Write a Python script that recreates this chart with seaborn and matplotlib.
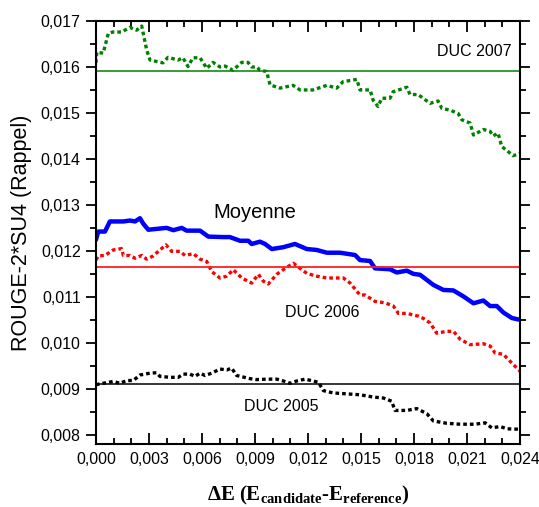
import pandas as pd
import matplotlib
matplotlib.use("Agg")
import matplotlib.pyplot as plt
import matplotlib.ticker as mticker
import seaborn as sns

# DUC 2007 (green dotted)
x_2007 = [0.0, 0.00005, 0.00041, 0.00070, 0.00096, 0.00145, 0.00192, 0.00230, 0.00259, 0.00287, 0.00306,
          0.00379, 0.00408, 0.00464, 0.00492, 0.00521, 0.00549, 0.00589, 0.00627, 0.00662, 0.00702,
          0.00730, 0.00775, 0.00825, 0.00860, 0.00881, 0.00910, 0.00928, 0.00966, 0.00985, 0.01041,
          0.01115, 0.01155, 0.01228, 0.01306, 0.01362, 0.01398, 0.01476, 0.01494, 0.01551, 0.01568,
          0.01596, 0.01617, 0.01664, 0.01681, 0.01759, 0.01777, 0.01823, 0.01890, 0.01936, 0.01957,
          0.02004, 0.02049, 0.02070, 0.02117, 0.02136, 0.02192, 0.02230, 0.02247, 0.02275, 0.02296,
          0.02332, 0.02360, 0.02400]
y_2007 = [0.01609, 0.01632, 0.01630, 0.01673, 0.01676, 0.01676, 0.01686, 0.01680, 0.01689, 0.01637, 0.01615,
          0.01609, 0.01621, 0.01615, 0.01620, 0.01601, 0.01620, 0.01620, 0.01597, 0.01610, 0.01600,
          0.01602, 0.01593, 0.01610, 0.01610, 0.01600, 0.01600, 0.01593, 0.01590, 0.01561, 0.01554,
          0.01560, 0.01550, 0.01550, 0.01560, 0.01554, 0.01568, 0.01573, 0.01550, 0.01550, 0.01528,
          0.01514, 0.01532, 0.01532, 0.01546, 0.01556, 0.01540, 0.01540, 0.01521, 0.01526, 0.01510,
          0.01506, 0.01499, 0.01485, 0.01478, 0.01452, 0.01464, 0.01460, 0.01450, 0.01456, 0.01427,
          0.01416, 0.01407, 0.01412]

# Moyenne (blue solid)
x_moy = [0.0, 0.00013, 0.00051, 0.00079, 0.00155, 0.00192, 0.00221, 0.00249, 0.00268, 0.00296,
         0.00400, 0.00438, 0.00485, 0.00513, 0.00589, 0.00636, 0.00721, 0.00758, 0.00815, 0.00862,
         0.00881, 0.00928, 0.00957, 0.00995, 0.01060, 0.01126, 0.01193, 0.01249, 0.01306, 0.01381,
         0.01466, 0.01494, 0.01551, 0.01579, 0.01664, 0.01702, 0.01759, 0.01796, 0.01834, 0.01909,
         0.01966, 0.02022, 0.02079, 0.02136, 0.02192, 0.02230, 0.02268, 0.02305, 0.02353, 0.02400]
y_moy = [0.01224, 0.01242, 0.01242, 0.01264, 0.01264, 0.01266, 0.01264, 0.01271, 0.01259, 0.01246,
         0.01250, 0.01245, 0.01250, 0.01244, 0.01244, 0.01231, 0.01230, 0.01230, 0.01222, 0.01222,
         0.01215, 0.01220, 0.01215, 0.01204, 0.01208, 0.01215, 0.01204, 0.01202, 0.01196, 0.01196,
         0.01191, 0.01180, 0.01178, 0.01162, 0.01160, 0.01153, 0.01157, 0.01150, 0.01148, 0.01126,
         0.01115, 0.01114, 0.01101, 0.01086, 0.01092, 0.01080, 0.01080, 0.01066, 0.01054, 0.01050]

# DUC 2006 (red dotted)
x_2006 = [0.0, 0.00013, 0.00051, 0.00098, 0.00145, 0.00155, 0.00192, 0.00221, 0.00259, 0.00287,
          0.00324, 0.00362, 0.00396, 0.00428, 0.00475, 0.00504, 0.00551, 0.00589, 0.00627, 0.00655,
          0.00702, 0.00740, 0.00777, 0.00825, 0.00881, 0.00919, 0.00947, 0.00975, 0.01023, 0.01070,
          0.01117, 0.01155, 0.01193, 0.01249, 0.01306, 0.01400, 0.01438, 0.01494, 0.01523, 0.01579,
          0.01636, 0.01683, 0.01711, 0.01759, 0.01824, 0.01853, 0.01891, 0.01928, 0.01985, 0.02023,
          0.02060, 0.02117, 0.02192, 0.02230, 0.02258, 0.02305, 0.02353, 0.02400]
y_2006 = [0.01180, 0.01189, 0.01190, 0.01202, 0.01205, 0.01190, 0.01190, 0.01184, 0.01190, 0.01182,
          0.01189, 0.01202, 0.01213, 0.01199, 0.01199, 0.01190, 0.01194, 0.01182, 0.01177, 0.01155,
          0.01141, 0.01145, 0.01159, 0.01141, 0.01130, 0.01149, 0.01134, 0.01128, 0.01149, 0.01162,
          0.01173, 0.01162, 0.01151, 0.01145, 0.01141, 0.01141, 0.01130, 0.01104, 0.01104, 0.01090,
          0.01087, 0.01080, 0.01064, 0.01064, 0.01058, 0.01053, 0.01043, 0.01021, 0.01025, 0.01025,
          0.01008, 0.00996, 0.00998, 0.00993, 0.00978, 0.00975, 0.00956, 0.00938]

# DUC 2005 (black dotted)
x_2005 = [0.0, 0.00041, 0.00098, 0.00136, 0.00174, 0.00211, 0.00249, 0.00306, 0.00343, 0.00362,
          0.00419, 0.00466, 0.00494, 0.00532, 0.00560, 0.00589, 0.00617, 0.00655, 0.00702, 0.00740,
          0.00768, 0.00796, 0.00872, 0.00909, 0.00966, 0.01023, 0.01060, 0.01098, 0.01136, 0.01183,
          0.01230, 0.01259, 0.01287, 0.01343, 0.01419, 0.01494, 0.01570, 0.01626, 0.01673, 0.01692,
          0.01759, 0.01815, 0.01872, 0.01909, 0.01985, 0.02060, 0.02145, 0.02202, 0.02240, 0.02287,
          0.02325, 0.02400]
y_2005 = [0.00909, 0.00912, 0.00916, 0.00912, 0.00918, 0.00918, 0.00930, 0.00934, 0.00935, 0.00927,
          0.00925, 0.00925, 0.00932, 0.00932, 0.00927, 0.00934, 0.00929, 0.00934, 0.00943, 0.00941,
          0.00945, 0.00929, 0.00922, 0.00920, 0.00921, 0.00921, 0.00917, 0.00912, 0.00917, 0.00921,
          0.00917, 0.00914, 0.00896, 0.00891, 0.00889, 0.00887, 0.00882, 0.00880, 0.00873, 0.00853,
          0.00853, 0.00857, 0.00846, 0.00830, 0.00825, 0.00823, 0.00823, 0.00826, 0.00815, 0.00818,
          0.00813, 0.00812]

# baselines (horizontal lines)
base_2007 = 0.01591
base_2006 = 0.01166
base_2005 = 0.00911

sns.set_style("ticks")
plt.rcParams['font.family'] = ['Liberation Sans', 'DejaVu Sans']
plt.rcParams['mathtext.fontset'] = 'custom'
plt.rcParams['mathtext.rm'] = 'Liberation Serif'
plt.rcParams['mathtext.bf'] = 'Liberation Serif:bold'
plt.rcParams['mathtext.it'] = 'Liberation Serif:italic'
for k in ['text.color', 'axes.labelcolor', 'xtick.color', 'ytick.color', 'axes.edgecolor']:
    plt.rcParams[k] = 'black'

fig = plt.figure(figsize=(5.39, 5.07), dpi=100)
ax = fig.add_axes([0.178, 0.1243, 0.787, 0.8343])

dot = (0, (1.1, 0.9))
sns.lineplot(x=x_2007, y=y_2007, ax=ax, color='#008000', lw=2.4, linestyle=dot)
sns.lineplot(x=x_moy, y=y_moy, ax=ax, color='#0000ff', lw=3.2)
sns.lineplot(x=x_2006, y=y_2006, ax=ax, color='#ff0000', lw=2.4, linestyle=dot)
sns.lineplot(x=x_2005, y=y_2005, ax=ax, color='black', lw=2.4, linestyle=dot)

ax.axhline(base_2007, color='#008000', lw=1.1)
ax.axhline(base_2006, color='#ff2020', lw=1.3)
ax.axhline(base_2005, color='black', lw=1.1)

ax.text(0.0214, 0.01633, 'DUC 2007', fontsize=11.5, ha='center', va='center')
ax.text(0.0090, 0.01283, 'Moyenne', fontsize=14.5, ha='center', va='center')
ax.text(0.0128, 0.01065, 'DUC 2006', fontsize=11.5, ha='center', va='center')
ax.text(0.0105, 0.00861, 'DUC 2005', fontsize=11.5, ha='center', va='center')

ax.set_xlim(0, 0.024)
ax.set_ylim(0.0078, 0.017)
ax.xaxis.set_major_locator(mticker.MultipleLocator(0.003))
ax.xaxis.set_minor_locator(mticker.MultipleLocator(0.001))
ax.yaxis.set_major_locator(mticker.MultipleLocator(0.001))
ax.yaxis.set_minor_locator(mticker.MultipleLocator(0.0005))
fmt = mticker.FuncFormatter(lambda v, p: f"{v:.3f}".replace('.', ','))
ax.xaxis.set_major_formatter(fmt)
ax.yaxis.set_major_formatter(fmt)

for s in ax.spines.values():
    s.set_linewidth(1.5)
    s.set_visible(True)
    s.set_color('black')
ax.tick_params(axis='x', which='both', direction='in', top=True, bottom=True, width=1.3, labelsize=11.5, pad=6)
ax.tick_params(axis='x', which='major', length=8)
ax.tick_params(axis='x', which='minor', length=4)
ax.tick_params(axis='y', which='both', direction='out', left=True, right=True, width=1.3, labelsize=11.5, pad=4)
ax.tick_params(axis='y', which='major', length=7)
ax.tick_params(axis='y', which='minor', length=4)

ax.set_ylabel('ROUGE-2*SU4 (Rappel)', fontsize=15.5, labelpad=6)
ax.set_xlabel(r'$\mathbf{\Delta E\ (E_{candidate}}$-$\mathbf{E_{reference})}$',
              fontsize=15, fontweight='bold', family='Liberation Serif', labelpad=12)

fig.savefig('out.png', dpi=100)
